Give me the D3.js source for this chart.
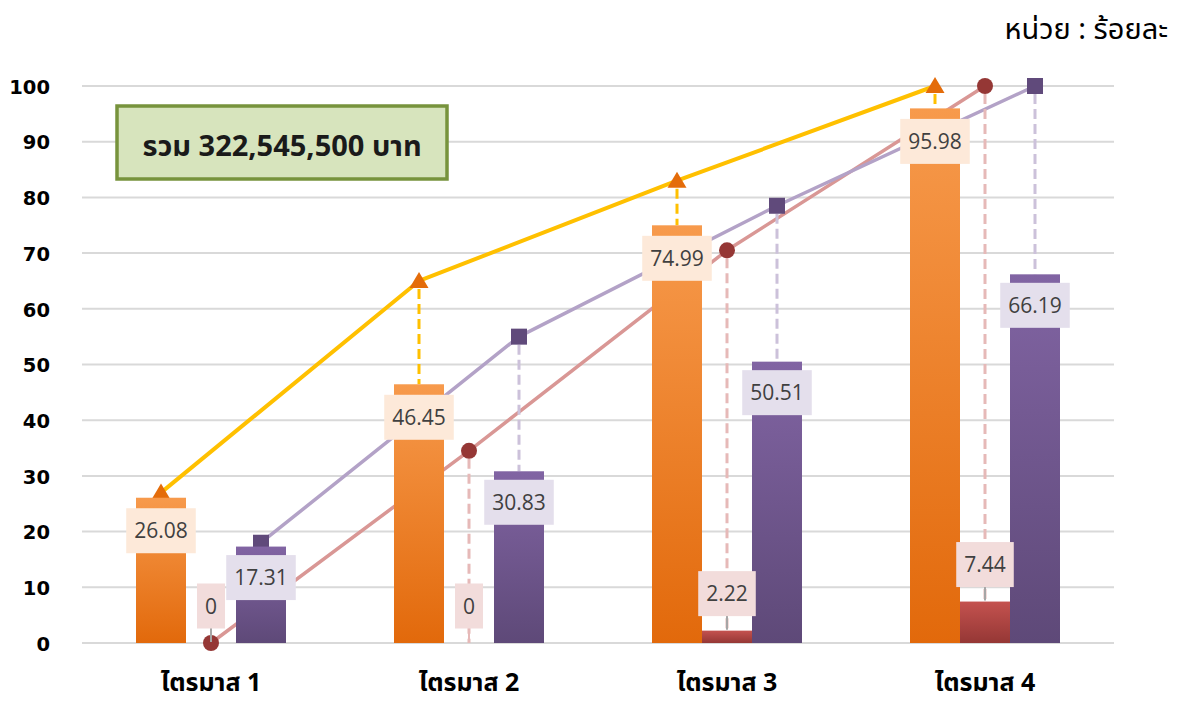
<!DOCTYPE html>
<html>
<head>
<meta charset="utf-8">
<script src="https://cdn.jsdelivr.net/npm/d3@7"></script>
<style>
  html, body { margin: 0; padding: 0; background: #ffffff; }
  svg { display: block; }
</style>
</head>
<body>
<svg id="chart" width="1179" height="702"></svg>
<script>
// ---------------- data ----------------
const categories = ["ไตรมาส 1", "ไตรมาส 2", "ไตรมาส 3", "ไตรมาส 4"];
const seriesKeys = ["orange", "red", "purple"];
const orangeBar = [26.08, 46.45, 74.99, 95.98];
const redBar = [0, 0, 2.22, 7.44];
const purpleBar = [17.31, 30.83, 50.51, 66.19];
const orangeTarget = [27, 65, 83, 100];
const redTarget = [0, 34.5, 70.5, 100];
const purpleTarget = [18, 55, 78.5, 100];
const yTicks = [0, 10, 20, 30, 40, 50, 60, 70, 80, 90, 100];
const unitText = "หน่วย : ร้อยละ";
const totalText = "รวม 322,545,500 บาท";

// ---------------- setup ----------------
const svg = d3.select("#chart");
const thaiFont = "'Noto Sans Thai', 'Noto Sans Thai UI', Loma, Garuda, Tahoma, 'Noto Sans', sans-serif";
const numFont = "'Open Sans', 'Noto Sans', sans-serif";

const x = d3.scaleBand().domain(categories).range([82, 1114]).padding(0);
const bw = x.bandwidth();
const xs = d3.scaleBand().domain(seriesKeys).range([bw / 2 - 75, bw / 2 + 75]).padding(0);
const y = d3.scaleLinear().domain([0, 100]).range([643, 86]);

const barData = { orange: orangeBar, red: redBar, purple: purpleBar };
const targetData = { orange: orangeTarget, red: redTarget, purple: purpleTarget };

const style = {
  orange: { top: "#F79A4C", bottom: "#E2690B", line: "#FFC000", marker: "#E46C0A", dash: "#FFC000", label: "#FDE9D9" },
  red:    { top: "#C4524F", bottom: "#953735", line: "#D99795", marker: "#953735", dash: "#E6B9B8", label: "#F2DCDB" },
  purple: { top: "#8164A3", bottom: "#5E4978", line: "#B3A2C7", marker: "#604A7B", dash: "#CCC1DA", label: "#E4DFEC" }
};

const defs = svg.append("defs");
seriesKeys.forEach(k => {
  const g = defs.append("linearGradient").attr("id", "grad-" + k)
    .attr("x1", 0).attr("y1", 0).attr("x2", 0).attr("y2", 1);
  g.append("stop").attr("offset", "0%").attr("stop-color", style[k].top);
  g.append("stop").attr("offset", "100%").attr("stop-color", style[k].bottom);
});

const cx = (k, i) => x(categories[i]) + xs(k) + xs.bandwidth() / 2;

// ---------------- gridlines ----------------
svg.append("g").selectAll("line").data(yTicks).join("line")
  .attr("x1", 82).attr("x2", 1114)
  .attr("y1", d => y(d)).attr("y2", d => y(d))
  .attr("stroke", "#D9D9D9").attr("stroke-width", 2);

// ---------------- y axis labels ----------------
const yAxis = d3.axisLeft(y).tickValues(yTicks).tickSize(0).tickPadding(0);
const yg = svg.append("g").attr("transform", "translate(50,1)").call(yAxis);
yg.select(".domain").remove();
yg.selectAll("text")
  .attr("font-family", "'DejaVu Sans', sans-serif")
  .attr("font-weight", "bold").attr("font-size", 19.5).attr("fill", "#000");

// ---------------- x axis labels ----------------
const xAxis = d3.axisBottom(x).tickSize(0).tickPadding(0);
const xg = svg.append("g").attr("transform", "translate(0,673)").call(xAxis);
xg.select(".domain").remove();
xg.selectAll("text")
  .attr("font-family", thaiFont).attr("font-weight", "bold")
  .attr("font-size", 25).attr("fill", "#000").attr("dy", "0.7em");

// ---------------- lines (behind bars) ----------------
const lineLayer = svg.append("g");
seriesKeys.forEach(k => {
  const pts = targetData[k].map((v, i) => [cx(k, i), y(v)]);
  lineLayer.append("path")
    .attr("d", d3.line()(pts))
    .attr("fill", "none").attr("stroke", style[k].line)
    .attr("stroke-width", k === "orange" ? 4 : 3.5).attr("stroke-linejoin", "round");
});

// dashed drop lines from target marker down to bar top
const dashLayer = svg.append("g");
seriesKeys.forEach(k => {
  targetData[k].forEach((v, i) => {
    const yb = y(barData[k][i]);
    const yt = y(v);
    if (yb - yt > 6) {
      dashLayer.append("line")
        .attr("x1", cx(k, i)).attr("x2", cx(k, i))
        .attr("y1", yt + 8).attr("y2", yb)
        .attr("stroke", style[k].dash).attr("stroke-width", 3)
        .attr("stroke-dasharray", "10,5");
    }
  });
});

// markers
const markerLayer = svg.append("g");
orangeTarget.forEach((v, i) => {
  const px = cx("orange", i), py = y(v);
  markerLayer.append("path")
    .attr("d", `M${px},${py - 9}L${px + 9.5},${py + 7}L${px - 9.5},${py + 7}Z`)
    .attr("fill", style.orange.marker);
});
redTarget.forEach((v, i) => {
  markerLayer.append("circle")
    .attr("cx", cx("red", i)).attr("cy", y(v)).attr("r", 8)
    .attr("fill", style.red.marker);
});
purpleTarget.forEach((v, i) => {
  markerLayer.append("rect")
    .attr("x", cx("purple", i) - 8).attr("y", y(v) - 8)
    .attr("width", 16).attr("height", 16)
    .attr("fill", style.purple.marker);
});

// ---------------- bars ----------------
const barLayer = svg.append("g");
seriesKeys.forEach(k => {
  barLayer.selectAll(null).data(barData[k]).join("rect")
    .attr("x", (d, i) => x(categories[i]) + xs(k))
    .attr("y", d => y(d))
    .attr("width", xs.bandwidth())
    .attr("height", d => y(0) - y(d))
    .attr("fill", `url(#grad-${k})`);
});

// ---------------- data labels ----------------
const labelLayer = svg.append("g");
const labelOffset = { orange: 33, red: -37, purple: 31 };
seriesKeys.forEach(k => {
  barData[k].forEach((v, i) => {
    const px = cx(k, i);
    const top = y(v);
    const cy = top + labelOffset[k];
    const g = labelLayer.append("g");
    if (k === "red") {
      g.append("line").attr("x1", px).attr("x2", px)
        .attr("y1", cy + 22).attr("y2", top - 1)
        .attr("stroke", v === 0 && targetData[k][i] > 0 ? style[k].dash : "#A6A6A6")
        .attr("stroke-width", 2);
    }
    const rect = g.append("rect");
    const t = g.append("text")
      .attr("x", px).attr("y", cy).attr("dy", "0.36em")
      .attr("text-anchor", "middle")
      .attr("font-family", numFont).attr("font-size", 21)
      .attr("fill", "#404040")
      .text(String(v));
    const w = t.node().getComputedTextLength() + 16;
    rect.attr("x", px - w / 2).attr("y", cy - 22.5)
      .attr("width", w).attr("height", 45)
      .attr("fill", style[k].label);
  });
});

// ---------------- total box ----------------
svg.append("rect")
  .attr("x", 117).attr("y", 106).attr("width", 330).attr("height", 73)
  .attr("fill", "#D7E4BD").attr("stroke", "#77933C").attr("stroke-width", 3.5);
svg.append("text")
  .attr("x", 282).attr("y", 146).attr("dy", "0.35em")
  .attr("text-anchor", "middle")
  .attr("font-family", thaiFont).attr("font-weight", "bold")
  .attr("font-size", 29).attr("fill", "#1a1a1a")
  .text(totalText);

// ---------------- unit label ----------------
svg.append("text")
  .attr("x", 1168).attr("y", 39)
  .attr("text-anchor", "end")
  .attr("font-family", thaiFont).attr("font-size", 29).attr("fill", "#000")
  .text(unitText);
</script>
</body>
</html>
